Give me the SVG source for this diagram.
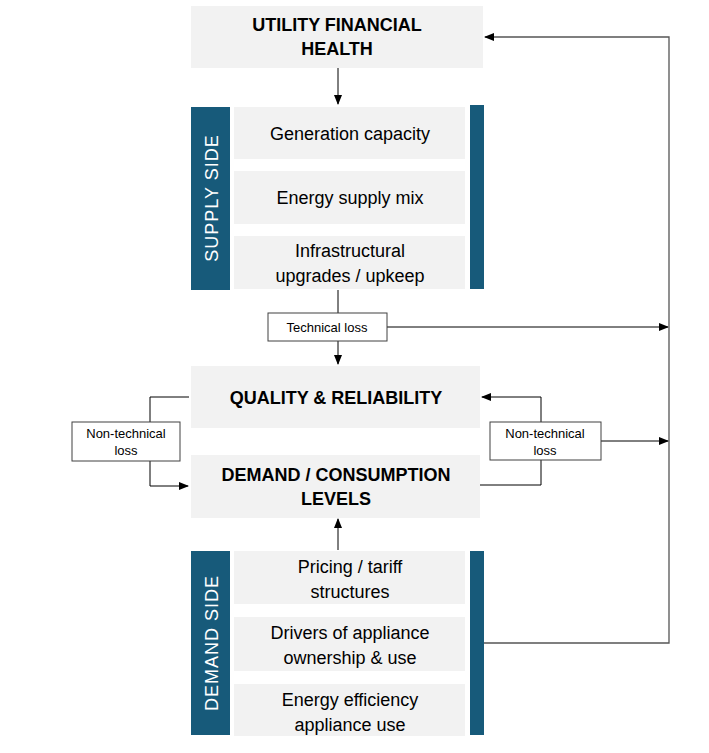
<svg xmlns="http://www.w3.org/2000/svg" width="709" height="753" viewBox="0 0 709 753">
<style>
.box{fill:#f2f2f2}
.bar{fill:#175a7a}
.t{font-family:"Liberation Sans",Arial,sans-serif;font-size:18px;fill:#000;text-anchor:middle}
.b{font-weight:bold}
.s{font-size:13px}
.side{font-family:"Liberation Sans",Arial,sans-serif;font-size:18px;fill:#fff;text-anchor:middle;letter-spacing:1px}
.lb{fill:#fff;stroke:#404040;stroke-width:1}
.c{fill:none;stroke:#000;stroke-width:1}
.g{fill:none;stroke:#555;stroke-width:1.3}
</style>
<defs>
<marker id="a" markerWidth="10" markerHeight="8" refX="9" refY="4" orient="auto" markerUnits="userSpaceOnUse"><path d="M0,0 L10,4 L0,8 z" fill="#000"/></marker>
</defs>
<rect width="709" height="753" fill="#fff"/>
<g id="connectors">
<path class="c" d="M338,68 V104" marker-end="url(#a)"/>
<path class="c" d="M338,290 V313"/>
<path class="c" d="M338,341 V364" marker-end="url(#a)"/>
<path class="c" d="M387,327 H668" marker-end="url(#a)"/>
<path class="g" d="M484,643 H669 V37 H485" marker-end="url(#a)"/>
<path class="c" d="M189,397 H150 V422"/>
<path class="c" d="M150,461 V486 H188" marker-end="url(#a)"/>
<path class="c" d="M480,485 H541 V460"/>
<path class="c" d="M541,422 V397 H482" marker-end="url(#a)"/>
<path class="c" d="M601,441 H668" marker-end="url(#a)"/>
<path class="c" d="M338,550 V519" marker-end="url(#a)"/>
</g>
<g id="utility"><rect class="box" x="191" y="6" width="292" height="62"/><text class="t b" x="337" y="31">UTILITY FINANCIAL</text><text class="t b" x="337" y="55">HEALTH</text></g>
<g id="supply">
<rect class="bar" x="191" y="107" width="39" height="183"/>
<text class="side" transform="translate(218,198) rotate(-90)">SUPPLY SIDE</text>
<rect class="bar" x="470" y="105" width="14" height="184"/>
<rect class="box" x="234" y="107" width="231" height="52"/><text class="t" x="350" y="140">Generation capacity</text>
<rect class="box" x="234" y="171" width="231" height="53"/><text class="t" x="350" y="204">Energy supply mix</text>
<rect class="box" x="234" y="236" width="231" height="53"/><text class="t" x="350" y="257">Infrastructural</text><text class="t" x="350" y="282">upgrades / upkeep</text>
</g>
<g id="techloss"><rect class="lb" x="268" y="313" width="119" height="28"/><text class="t s" x="327" y="332">Technical loss</text></g>
<g id="quality"><rect class="box" x="191" y="366" width="289" height="62"/><text class="t b" x="336" y="404">QUALITY &amp; RELIABILITY</text></g>
<g id="demand"><rect class="box" x="191" y="455" width="289" height="63"/><text class="t b" x="336" y="481">DEMAND / CONSUMPTION</text><text class="t b" x="336" y="505">LEVELS</text></g>
<g id="ntl-left"><rect class="lb" x="72" y="422" width="108" height="39"/><text class="t s" x="126" y="438">Non-technical</text><text class="t s" x="126" y="455">loss</text></g>
<g id="ntl-right"><rect class="lb" x="490" y="422" width="111" height="38"/><text class="t s" x="545" y="438">Non-technical</text><text class="t s" x="545" y="455">loss</text></g>
<g id="demandside">
<rect class="bar" x="191" y="551" width="39" height="184"/>
<text class="side" transform="translate(218,643) rotate(-90)">DEMAND SIDE</text>
<rect class="bar" x="470" y="551" width="14" height="184"/>
<rect class="box" x="234" y="551" width="231" height="53"/><text class="t" x="350" y="573">Pricing / tariff</text><text class="t" x="350" y="598">structures</text>
<rect class="box" x="234" y="617" width="231" height="54"/><text class="t" x="350" y="639">Drivers of appliance</text><text class="t" x="350" y="664">ownership &amp; use</text>
<rect class="box" x="234" y="684" width="231" height="52"/><text class="t" x="350" y="706">Energy efficiency</text><text class="t" x="350" y="731">appliance use</text>
</g>
</svg>
